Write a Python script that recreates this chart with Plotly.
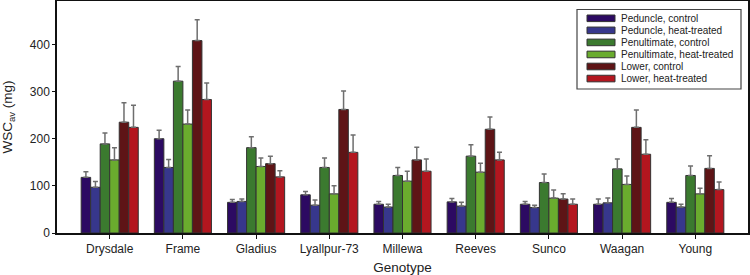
import plotly.graph_objects as go

genotypes = ["Drysdale", "Frame", "Gladius", "Lyallpur-73", "Millewa", "Reeves", "Sunco", "Waagan", "Young"]
series_names = ["Peduncle, control", "Peduncle, heat-treated", "Penultimate, control",
                "Penultimate, heat-treated", "Lower, control", "Lower, heat-treated"]

peduncle_control = [118, 200, 65, 81, 61, 66, 61, 61, 65]
peduncle_control_err = [12, 18, 6, 7, 6, 7, 6, 11, 8]
peduncle_heat = [97, 139, 67, 59, 55, 57, 54, 64, 55]
peduncle_heat_err = [12, 17, 5, 11, 6, 8, 5, 10, 6]
penultimate_control = [189, 322, 181, 139, 122, 163, 107, 136, 122]
penultimate_control_err = [23, 31, 23, 20, 17, 24, 18, 21, 20]
penultimate_heat = [155, 231, 141, 83, 110, 129, 74, 103, 83]
penultimate_heat_err = [26, 30, 18, 17, 21, 19, 17, 18, 12]
lower_control = [235, 408, 147, 262, 155, 220, 72, 224, 137]
lower_control_err = [41, 44, 16, 39, 27, 26, 11, 37, 27]
lower_heat = [224, 283, 119, 171, 131, 155, 61, 167, 92]
lower_heat_err = [47, 35, 13, 37, 26, 16, 11, 31, 16]

values = [peduncle_control, peduncle_heat, penultimate_control, penultimate_heat, lower_control, lower_heat]
errors = [peduncle_control_err, peduncle_heat_err, penultimate_control_err,
          penultimate_heat_err, lower_control_err, lower_heat_err]
colors = ["#2c0a62", "#37378c", "#3b7a2f", "#6aac2e", "#5e1416", "#b3161f"]

W, H = 750, 275
ML, MR, MT, MB = 57, 2, 1, 42
PW, PH = W - ML - MR, H - MT - MB


def px_x(x):
    return (x - ML) / PW


def px_y(y):
    return 1 - (y - MT) / PH


fig = go.Figure()
for name, vals, errs, col in zip(series_names, values, errors, colors):
    fig.add_trace(go.Bar(
        name=name, x=genotypes, y=vals, showlegend=False,
        marker=dict(color=col, line=dict(color="#333333", width=1)),
        error_y=dict(type="data", array=errs, arrayminus=[0] * len(errs), symmetric=False,
                     color="#6e6e6e", thickness=1.5, width=2.5),
    ))

# legend box drawn as shapes + text
shapes = [dict(type="rect", xref="paper", yref="paper",
               x0=px_x(577), x1=px_x(741), y0=px_y(89), y1=px_y(9.5),
               line=dict(color="#444444", width=1.2), fillcolor="white", layer="above")]
annotations = []
for i, (name, col) in enumerate(zip(series_names, colors)):
    cy = 18.3 + 12.05 * i
    shapes.append(dict(type="rect", xref="paper", yref="paper",
                       x0=px_x(587), x1=px_x(615), y0=px_y(cy + 3.3), y1=px_y(cy - 3.3),
                       line=dict(color="#333333", width=1), fillcolor=col, layer="above"))
    annotations.append(dict(xref="paper", yref="paper", x=px_x(619), y=px_y(cy),
                            xanchor="left", yanchor="middle", showarrow=False,
                            text=name, font=dict(size=10, color="#222222")))

font = "Liberation Sans, Arial, Helvetica, sans-serif"
fig.update_layout(
    width=W, height=H,
    margin=dict(l=ML, r=MR, t=MT, b=MB, autoexpand=False),
    barmode="group", bargap=0.22, bargroupgap=0,
    plot_bgcolor="white", paper_bgcolor="white",
    font=dict(family=font, size=12, color="#222222"),
    showlegend=False,
    shapes=shapes, annotations=annotations,
    xaxis=dict(range=[-0.72, 8.72], showline=True, linecolor="#111111", linewidth=1.5,
               mirror=True, ticks="outside", ticklen=4, tickcolor="#111111",
               automargin=False,
               title=dict(text="Genotype", font=dict(size=13.5), standoff=9),
               tickfont=dict(size=12)),
    yaxis=dict(range=[0, 492], showline=True, linecolor="#111111", linewidth=1.5,
               mirror=True, ticks="outside", ticklen=3, tickcolor="#111111",
               automargin=False,
               tickvals=[0, 100, 200, 300, 400], showgrid=False, zeroline=False,
               title=dict(text="WSC<sub>av</sub> (mg)", font=dict(size=13.5), standoff=14),
               tickfont=dict(size=12)),
)
fig.write_html("out.html", config={"displayModeBar": False},
               post_script="document.body.style.margin='0';")
